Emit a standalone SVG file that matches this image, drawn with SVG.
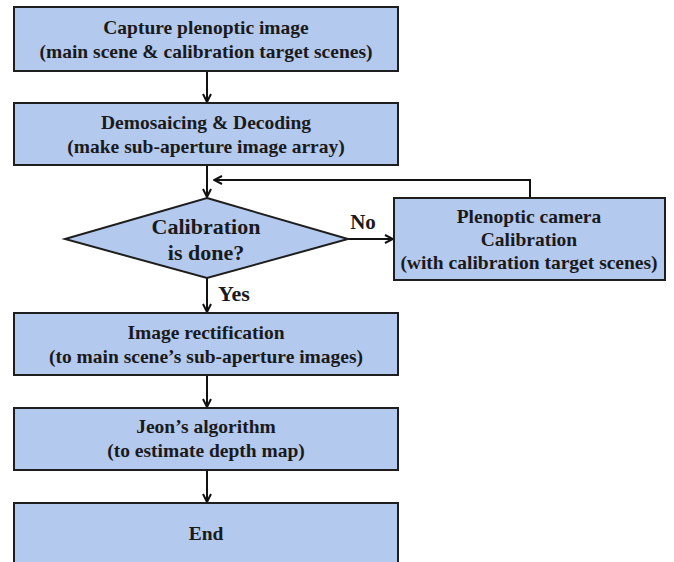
<svg xmlns="http://www.w3.org/2000/svg" width="674" height="562" viewBox="0 0 674 562">
<defs>
<style>
.box{fill:#b4c9ee;stroke:#1e1e1e;stroke-width:2}
.t{font-family:"Liberation Serif","Times New Roman",serif;font-weight:bold;font-size:19.5px;fill:#1a1a1a;text-anchor:middle}
.big{font-size:22px}
.c{fill:none;stroke:#111;stroke-width:2}
</style>
<marker id="ah" viewBox="0 0 10 10" refX="9" refY="5" markerWidth="10" markerHeight="10" markerUnits="userSpaceOnUse" orient="auto">
<path d="M1,1 L9,5 L1,9" fill="none" stroke="#111" stroke-width="2"/>
</marker>
</defs>
<rect width="674" height="562" fill="#ffffff"/>
<g id="connectors">
<line class="c" x1="207" y1="71" x2="207" y2="102" marker-end="url(#ah)"/>
<line class="c" x1="207" y1="165" x2="207" y2="197" marker-end="url(#ah)"/>
<polyline class="c" points="530,198 530,180 214,180" marker-end="url(#ah)"/>
<line class="c" x1="348" y1="239" x2="393" y2="239" marker-end="url(#ah)"/>
<line class="c" x1="207" y1="278" x2="207" y2="312" marker-end="url(#ah)"/>
<line class="c" x1="207" y1="375" x2="207" y2="407" marker-end="url(#ah)"/>
<line class="c" x1="207" y1="470" x2="207" y2="502" marker-end="url(#ah)"/>
<text class="t big" x="363" y="229" style="font-size:21px">No</text>
<text class="t big" x="234" y="301">Yes</text>
</g>
<g id="n1">
<rect class="box" x="14" y="7" width="384" height="64"/>
<text class="t" x="206" y="34">Capture plenoptic image</text>
<text class="t" x="206" y="58">(main scene &amp; calibration target scenes)</text>
</g>
<g id="n2">
<rect class="box" x="14" y="103" width="384" height="62"/>
<text class="t" x="206" y="129">Demosaicing &amp; Decoding</text>
<text class="t" x="206" y="153">(make sub-aperture image array)</text>
</g>
<g id="n3">
<polygon class="box" points="207,198 348,239 207,278 65,239"/>
<text class="t big" x="206" y="234">Calibration</text>
<text class="t big" x="206" y="260">is done?</text>
</g>
<g id="n4">
<rect class="box" x="394" y="198" width="271" height="82"/>
<text class="t" x="529" y="223">Plenoptic camera</text>
<text class="t" x="529" y="246">Calibration</text>
<text class="t" x="529" y="269">(with calibration target scenes)</text>
</g>
<g id="n5">
<rect class="box" x="14" y="313" width="384" height="62"/>
<text class="t" x="206" y="339">Image rectification</text>
<text class="t" x="206" y="363">(to main scene’s sub-aperture images)</text>
</g>
<g id="n6">
<rect class="box" x="14" y="408" width="384" height="62"/>
<text class="t" x="206" y="433">Jeon’s algorithm</text>
<text class="t" x="206" y="457">(to estimate depth map)</text>
</g>
<g id="n7">
<rect class="box" x="14" y="503" width="384" height="64"/>
<text class="t" x="206" y="540">End</text>
</g>
</svg>
